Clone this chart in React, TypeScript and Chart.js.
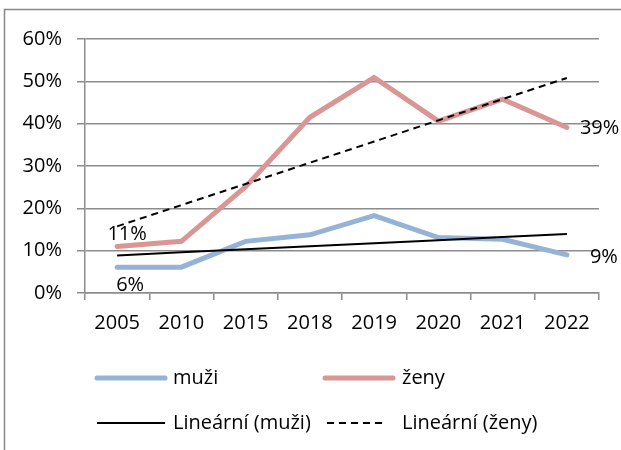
import React, { useEffect, useRef } from "react";
import { Chart, registerables } from "chart.js";

Chart.register(...registerables);

const categories = ["2005", "2010", "2015", "2018", "2019", "2020", "2021", "2022"];
const muzi = [6.1, 6.1, 12.2, 13.75, 18.3, 13.1, 12.7, 9.0];
const zeny = [11.0, 12.2, 25.1, 41.5, 50.9, 40.6, 45.8, 39.1];
const yTicks = [0, 10, 20, 30, 40, 50, 60];
const seriesNames = ["muži", "ženy", "Lineární (muži)", "Lineární (ženy)"];

const BLUE = "#95b3d7";
const RED = "#d99694";
const GRID = "#8c8c8c";
const FONT = "'Open Sans'";

function linearTrend(vals: number[]): number[] {
  const n = vals.length;
  const xs = vals.map((_, i) => i + 1);
  const mx = xs.reduce((a, b) => a + b, 0) / n;
  const my = vals.reduce((a, b) => a + b, 0) / n;
  let sxy = 0;
  let sxx = 0;
  for (let i = 0; i < n; i++) {
    sxy += (xs[i] - mx) * (vals[i] - my);
    sxx += (xs[i] - mx) * (xs[i] - mx);
  }
  const slope = sxy / sxx;
  return xs.map((x) => my + slope * (x - mx));
}

const decorPlugin = {
  id: "decor",
  beforeDraw(chart: any) {
    const ctx = chart.ctx;
    ctx.save();
    ctx.strokeStyle = "#888888";
    ctx.lineWidth = 1.5;
    ctx.strokeRect(4.5, 9.5, 800, 600);
    ctx.restore();
  },
  afterDraw(chart: any) {
    const ctx = chart.ctx;
    ctx.save();
    ctx.font = `20px ${FONT}`;
    ctx.fillStyle = "#000";
    ctx.textBaseline = "middle";
    const mMeta = chart.getDatasetMeta(0);
    const zMeta = chart.getDatasetMeta(1);
    const last = categories.length - 1;
    const fmt = (v: number) => Math.round(v) + "%";
    // data labels
    let p = zMeta.data[0];
    ctx.textAlign = "center";
    ctx.fillText(fmt(zeny[0]), p.x + 10, p.y - 12);
    p = mMeta.data[0];
    ctx.fillText(fmt(muzi[0]), p.x + 13, p.y + 18);
    ctx.textAlign = "left";
    p = zMeta.data[last];
    ctx.fillText(fmt(zeny[last]), p.x + 13, p.y + 1);
    p = mMeta.data[last];
    ctx.fillText(fmt(muzi[last]), p.x + 23, p.y + 2);

    // legend
    const rows = [
      { x: 97, len: 68, tx: 173, y: 378, color: BLUE, width: 5, dash: [] as number[], cap: "round", label: seriesNames[0] },
      { x: 325, len: 68, tx: 402, y: 378, color: RED, width: 5, dash: [] as number[], cap: "round", label: seriesNames[1] },
      { x: 97, len: 68, tx: 173, y: 423, color: "#000", width: 2, dash: [] as number[], cap: "butt", label: seriesNames[2] },
      { x: 327, len: 58, tx: 402, y: 423, color: "#000", width: 2, dash: [7, 5], cap: "butt", label: seriesNames[3] },
    ];
    for (const r of rows) {
      ctx.beginPath();
      ctx.strokeStyle = r.color;
      ctx.lineWidth = r.width;
      ctx.lineCap = r.cap;
      ctx.setLineDash(r.dash);
      ctx.moveTo(r.x, r.y);
      ctx.lineTo(r.x + r.len, r.y);
      ctx.stroke();
      ctx.setLineDash([]);
      ctx.fillStyle = "#000";
      ctx.textAlign = "left";
      ctx.fillText(r.label, r.tx, r.y);
    }
    ctx.restore();
  },
};

export default function App() {
  const ref = useRef<HTMLCanvasElement | null>(null);
  useEffect(() => {
    if (!ref.current) return;
    const chart = new Chart(ref.current, {
      type: "line",
      data: {
        labels: categories,
        datasets: [
          {
            label: seriesNames[0],
            data: muzi,
            borderColor: BLUE,
            borderWidth: 5,
            pointRadius: 0,
            borderCapStyle: "round",
            order: 1,
          },
          {
            label: seriesNames[1],
            data: zeny,
            borderColor: RED,
            borderWidth: 5,
            pointRadius: 0,
            borderCapStyle: "round",
            order: 1,
          },
          {
            label: seriesNames[2],
            data: linearTrend(muzi),
            borderColor: "#000",
            borderWidth: 2,
            pointRadius: 0,
            order: 0,
          },
          {
            label: seriesNames[3],
            data: linearTrend(zeny),
            borderColor: "#000",
            borderWidth: 2,
            borderDash: [7, 5],
            pointRadius: 0,
            order: 0,
          },
        ],
      },
      options: {
        animation: false,
        responsive: true,
        maintainAspectRatio: false,
        layout: { padding: { top: 39, right: 22, bottom: 0, left: 0 } },
        plugins: {
          legend: { display: false },
          tooltip: { enabled: false },
        },
        scales: {
          x: {
            type: "category",
            offset: true,
            grid: {
              offset: true,
              drawOnChartArea: false,
              drawTicks: true,
              tickLength: 7,
              color: GRID,
              lineWidth: 1.5,
            },
            border: { display: true, color: GRID, width: 1.5 },
            ticks: {
              color: "#000",
              font: { family: FONT, size: 20, lineHeight: 1.2 },
              padding: 11,
              maxRotation: 0,
              autoSkip: false,
            },
            afterFit: (s: any) => {
              s.height = 157;
            },
          },
          y: {
            min: 0,
            max: 60,
            afterBuildTicks: (s: any) => {
              s.ticks = yTicks.map((v) => ({ value: v }));
            },
            grid: {
              color: GRID,
              lineWidth: 1.5,
              drawTicks: true,
              tickLength: 8,
            },
            border: { display: true, color: GRID, width: 1.5 },
            ticks: {
              color: "#000",
              font: { family: FONT, size: 20 },
              padding: 15,
              callback: (v: any) => v + "%",
            },
            afterFit: (s: any) => {
              s.width = 85;
            },
          },
        },
      },
      plugins: [decorPlugin],
    });
    return () => chart.destroy();
  }, []);
  return (
    <div style={{ position: "fixed", left: 0, top: 0, width: 621, height: 450, background: "#fff" }}>
      <canvas ref={ref} />
    </div>
  );
}
